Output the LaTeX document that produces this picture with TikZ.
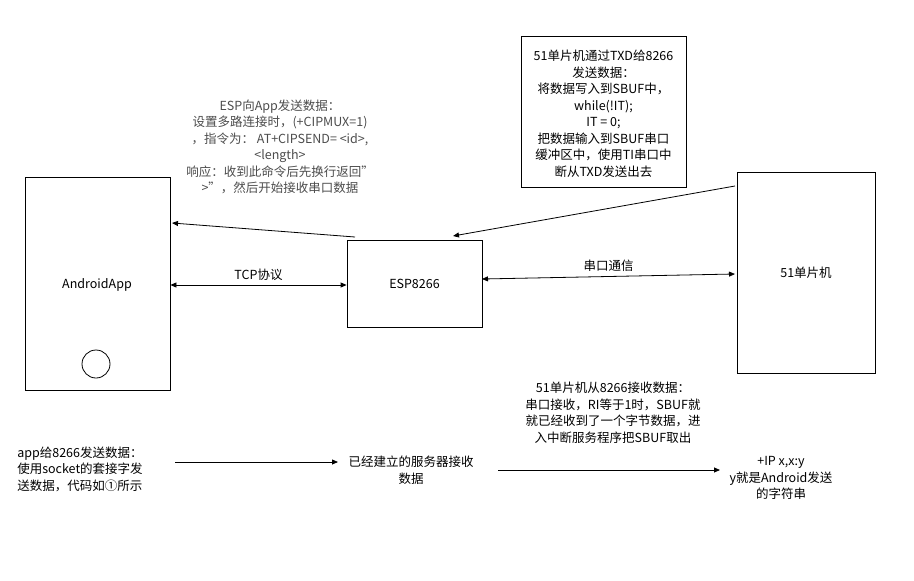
\documentclass[tikz,border=0pt]{standalone}
\usepackage{fontspec}
\setmainfont{Noto Sans CJK SC}
\usetikzlibrary{arrows.meta}
\begin{document}
\begin{tikzpicture}[x=1pt,y=-1pt,
  box/.style={draw,line width=0.8pt,inner sep=0},
  lbl/.style={font=\fontsize{12.5}{16.5}\selectfont,align=center,inner sep=1pt},
  arr/.style={-{Triangle[length=6pt,width=5pt]},line width=0.8pt},
  darr/.style={{Triangle[length=6pt,width=5pt]}-{Triangle[length=6pt,width=5pt]},line width=0.8pt}]
\useasboundingbox (0,0) rectangle (914,581);
\node[box,minimum width=145,minimum height=213] (app) at (97.5,283.5) {};
\node[lbl] (appl) at (97,285) {AndroidApp};
\node[draw,circle,minimum size=28,line width=0.8pt,inner sep=0] (c) at (96,364) {};
\node[box,minimum width=135,minimum height=87] (esp) at (414.5,283.5) {};
\node[lbl] at (esp) {ESP8266};
\node[box,minimum width=138,minimum height=201] (mcu) at (806,272.5) {};
\node[lbl] at (mcu) {51单片机};
\node[box,minimum width=165,minimum height=151,line width=1pt] (tb) at (603.5,111.5) {};
\node[lbl] at (603.5,114) {51单片机通过TXD给8266\\发送数据：\\将数据写入到SBUF中，\\while(!IT);\\IT = 0;\\把数据输入到SBUF串口\\缓冲区中，使用TI串口中\\断从TXD发送出去};
\node[lbl,text=black!70] (esptxt) at (280,147) {ESP向App发送数据：\\设置多路连接时，(+CIPMUX=1)\\，指令为： AT+CIPSEND= <id>,\\<length>\\响应：收到此命令后先换行返回”\\>”，然后开始接收串口数据};
\coordinate (a1) at (355,237); \coordinate (a2) at (172,223);
\draw[arr] (a1) -- (a2);
\draw[darr] (app.east |- 0,285) -- node[lbl,above=3pt] {TCP协议} (esp.west |- 0,285);
\coordinate (b1) at (482,279); \coordinate (b2) at (735,274);
\draw[darr] (b1) -- node[lbl,above=4pt] {串口通信} (b2);
\coordinate (d1) at (735,186); \coordinate (d2) at (453,236);
\draw[arr] (d1) -- (d2);
\node[lbl,align=left] (t1) at (80,469) {app给8266发送数据：\\使用socket的套接字发\\送数据，代码如①所示};
\node[lbl] (t2) at (411,470) {已经建立的服务器接收\\数据};
\node[lbl] (t3) at (613,413) {51单片机从8266接收数据：\\串口接收，RI等于1时，SBUF就\\就已经收到了一个字节数据，进\\入中断服务程序把SBUF取出};
\node[lbl] (t4) at (781,478) {+IP x,x:y\\y就是Android发送\\的字符串};
\coordinate (e1) at (175,462); \coordinate (e2) at (338,462);
\draw[arr] (e1) -- (e2);
\coordinate (f1) at (498,470); \coordinate (f2) at (720,470);
\draw[arr] (f1) -- (f2);
\end{tikzpicture}
\end{document}
